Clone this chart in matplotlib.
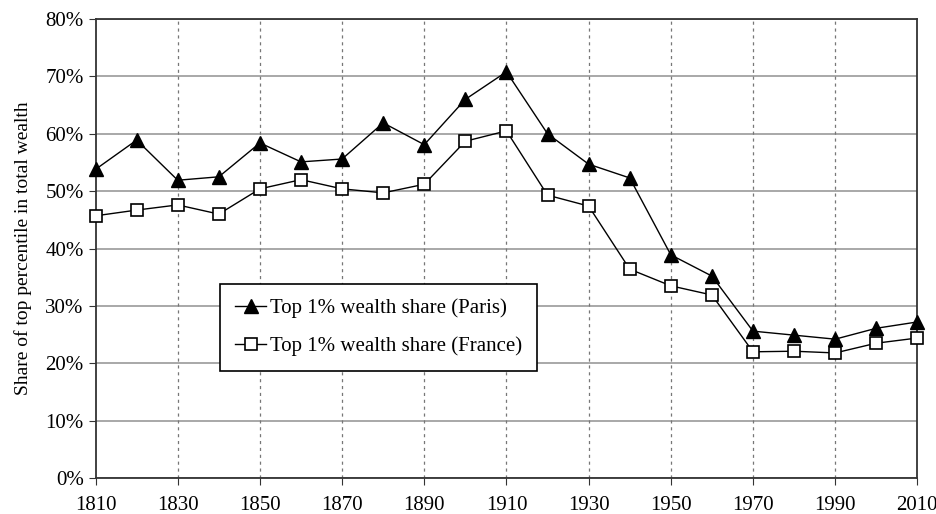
import matplotlib.pyplot as plt
from matplotlib.ticker import FuncFormatter

years = list(range(1810, 2011, 10))
paris = [53.8, 58.9, 51.9, 52.5, 58.4, 55.1, 55.6, 61.9, 58.1, 66.0, 70.8,
         60.0, 54.7, 52.3, 38.9, 35.2, 25.6, 24.9, 24.2, 26.1, 27.2]
france = [45.7, 46.7, 47.6, 46.0, 50.4, 52.0, 50.4, 49.7, 51.2, 58.7, 60.5,
          49.3, 47.4, 36.4, 33.5, 31.9, 22.0, 22.1, 21.8, 23.5, 24.4]

plt.rcParams['font.family'] = ['Liberation Serif', 'DejaVu Serif']

fig, ax = plt.subplots(figsize=(9.37, 5.14), dpi=100)
fig.subplots_adjust(left=0.102, right=0.979, top=0.963, bottom=0.07)

ax.plot(years, paris, color='black', lw=1.0, marker='^', ms=10,
        mfc='black', mec='black', label='Top 1% wealth share (Paris)',
        zorder=3, clip_on=False)
ax.plot(years, france, color='black', lw=1.0, marker='s', ms=8.5,
        mfc='white', mec='black', mew=1.2, label='Top 1% wealth share (France)',
        zorder=3, clip_on=False)

ax.set_xlim(1810, 2010)
ax.set_ylim(0, 80)
ax.set_xticks(range(1810, 2011, 20))
ax.set_yticks(range(0, 81, 10))
ax.yaxis.set_major_formatter(FuncFormatter(lambda v, p: f'{int(v)}%'))
ax.tick_params(labelsize=15, direction='out', length=5, color='#333333')
ax.tick_params(axis='x', pad=8)

# horizontal solid, vertical dotted gridlines
ax.yaxis.grid(True, color='#999999', lw=1.2)
for x in range(1830, 2010, 20):
    ax.axvline(x, color='#777777', lw=0.9, ls=(0, (2.5, 3)), zorder=1)
ax.set_axisbelow(True)

for s in ax.spines.values():
    s.set_color('#333333')
    s.set_linewidth(1.3)

ax.set_ylabel('Share of top percentile in total wealth', fontsize=14, labelpad=10)

leg = ax.legend(loc='lower left', bbox_to_anchor=(0.152, 0.233), borderaxespad=0,
                fontsize=15, frameon=True, fancybox=False, edgecolor='black',
                framealpha=1, handlelength=1.5, handletextpad=0.2, borderpad=0.7,
                labelspacing=0.9)
leg.get_frame().set_linewidth(1.2)

fig.savefig('out.png', dpi=100)
